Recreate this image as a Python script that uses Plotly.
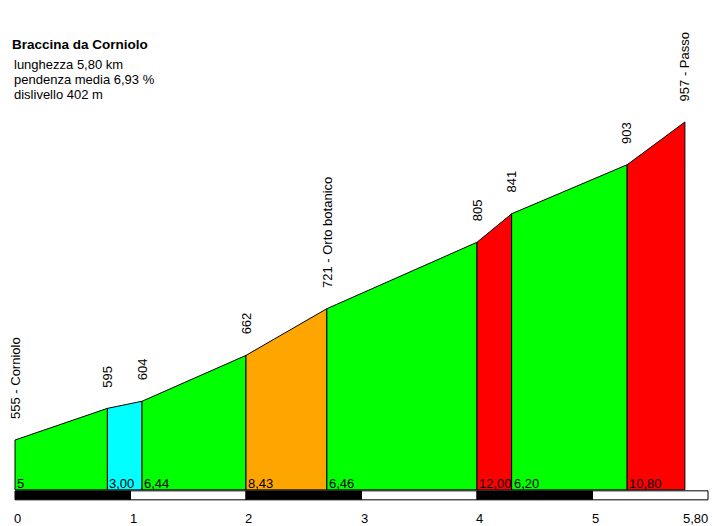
import plotly.graph_objects as go

# ---- data ----
km = [0.0, 0.8, 1.1, 2.0, 2.7, 4.0, 4.3, 5.3, 5.8]
alt = [555, 595, 604, 662, 721, 805, 841, 903, 957]
point_names = ["555 - Corniolo", "595", "604", "662", "721 - Orto botanico", "805", "841", "903", "957 - Passo"]
grad_labels = ["5", "3,00", "6,44", "8,43", "6,46", "12,00", "6,20", "10,80"]
seg_colors = ["#00FF00", "#00FFFF", "#00FF00", "#FFA500", "#00FF00", "#FF0000", "#00FF00", "#FF0000"]
scale_km = [0, 1, 2, 3, 4, 5, 6]
tick_labels = ["0", "1", "2", "3", "4", "5", "5,80"]
title = "Braccina da Corniolo"
info = ["lunghezza 5,80 km", "pendenza media 6,93 %", "dislivello 402 m"]

base = 492.0
W, H = 712, 526
pxkm = 115.5
pxm = 0.791
x0px = 15
xr = [-x0px / pxkm, (W - x0px) / pxkm]
yr = [555 - (H - 440) / pxm, 555 + 440 / pxm]

fig = go.Figure()
for i in range(len(km) - 1):
    xs = [km[i], km[i], km[i + 1], km[i + 1], km[i]]
    ys = [base, alt[i], alt[i + 1], base, base]
    fig.add_trace(go.Scatter(x=xs, y=ys, mode="lines", fill="toself",
                             fillcolor=seg_colors[i], line=dict(color="black", width=1),
                             hoverinfo="skip", showlegend=False))

font = "Liberation Sans, Arial, sans-serif"
ann = []
# gradient labels
for i, g in enumerate(grad_labels):
    ann.append(dict(x=km[i], y=base, text=g, showarrow=False, xanchor="left", yanchor="middle",
                    xshift=0, yshift=6, font=dict(family=font, size=13, color="black")))
# altitude labels
for k, a, n in zip(km, alt, point_names):
    ann.append(dict(x=k, y=a, text=n, showarrow=False, textangle=-90, xanchor="center",
                    yanchor="bottom", yshift=19, font=dict(family=font, size=13, color="black")))
# scale bar
bar_top = base - 1 / pxm
bar_bot = base - 10 / pxm
shapes = []
for i in range(len(scale_km) - 1):
    shapes.append(dict(type="rect", xref="x", yref="y", x0=scale_km[i], x1=scale_km[i + 1],
                       y0=bar_bot, y1=bar_top, fillcolor="black" if i % 2 == 0 else "white",
                       line=dict(color="black", width=1)))
for i, (k, t) in enumerate(zip(scale_km, tick_labels)):
    last = i == len(scale_km) - 1
    ann.append(dict(x=k, y=1 - 518 / H, yref="paper", text=t, showarrow=False,
                    xanchor="right" if last else "left", yanchor="middle",
                    xshift=2 if last else -3,
                    font=dict(family=font, size=13, color="black")))
# title and info
ann.append(dict(x=10 / W, y=1 - 44 / H, xref="paper", yref="paper", text="<b>" + title + "</b>",
                showarrow=False, xanchor="left", yanchor="middle",
                font=dict(family=font, size=13.5, color="black")))
for j, t in enumerate(info):
    ann.append(dict(x=12 / W, y=1 - (64 + 15.5 * j) / H, xref="paper", yref="paper", text=t,
                    showarrow=False, xanchor="left", yanchor="middle",
                    font=dict(family=font, size=13, color="black")))

fig.update_layout(width=W, height=H, margin=dict(l=0, r=0, t=0, b=0),
                  paper_bgcolor="white", plot_bgcolor="white",
                  xaxis=dict(range=xr, visible=False, fixedrange=True),
                  yaxis=dict(range=yr, visible=False, fixedrange=True),
                  annotations=ann, shapes=shapes, showlegend=False)
fig.write_html("out.html")
